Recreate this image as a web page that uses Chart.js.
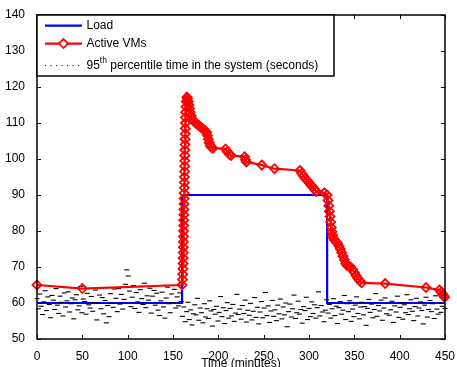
<!DOCTYPE html>
<html>
<head>
<meta charset="utf-8">
<script src="https://cdn.jsdelivr.net/npm/chart.js@4.4.0/dist/chart.umd.min.js"></script>
<style>
  html, body { margin: 0; padding: 0; background: #fff; }
  canvas { display: block; }
</style>
</head>
<body>
<canvas id="chart" width="457" height="367"></canvas>
<script>
// Load vs. active VMs vs. 95th percentile response time

const xTickValues = [0, 50, 100, 150, 200, 250, 300, 350, 400, 450];
const yTickValues = [50, 60, 70, 80, 90, 100, 110, 120, 130, 140];

// Load (step function)
const loadTimes = [0, 160, 160, 320, 320, 450];
const loadValues = [60, 60, 90, 90, 60, 60];

// Active VMs
const vmTimes = [
  0, 50, 160, 160.4, 160.7, 160.9, 161.1, 161.2, 161.3, 161.4,
  161.5, 161.6, 161.7, 161.8, 161.9, 162.0, 162.1, 162.2, 162.3, 162.4,
  162.5, 162.6, 162.7, 162.8, 162.9, 163.0, 163.1, 163.2, 163.3, 163.4,
  163.5, 163.6, 163.7, 163.8, 164.0, 164.3, 164.7, 165.3, 166.0, 166.8,
  167.5, 168.3, 169, 170, 171, 173, 175, 177, 179, 181,
  183, 185, 187, 188, 189, 190, 191, 192, 194, 208,
  210, 212, 214, 229, 230, 231, 248, 262, 290, 292,
  294, 296, 298, 300, 302, 304, 306, 308, 317, 320,
  321, 321.8, 322.5, 323.2, 323.9, 324.6, 325.3, 326, 327, 328.5,
  330, 331.5, 333, 334.5, 336, 337.5, 339, 340.5, 342, 344,
  346, 348, 350, 352, 354, 356, 358, 384, 429, 444,
  446, 447.5, 448.5, 449.5
];
const vmCounts = [
  65, 64, 65, 66.5, 68, 69.5, 71, 72.5, 74, 75.5,
  77, 78.5, 80, 81.5, 83, 84.5, 86, 87.5, 89, 90.5,
  92, 93.5, 95, 96.5, 98, 99.5, 101, 102.5, 104, 105.5,
  107, 108.5, 110, 111.5, 113, 114.5, 116, 117.2, 116.8, 116,
  115, 114, 113, 112, 111.2, 110.5, 110, 109.6, 109.2, 108.8,
  108.3, 108, 107.4, 106.5, 105.5, 104.5, 103.8, 103.3, 103, 102.8,
  102, 101.3, 101, 100.6, 99.8, 99.2, 98.3, 97.3, 96.8, 96,
  95.3, 94.6, 94, 93.4, 92.8, 92.2, 91.6, 91, 90.6, 90,
  88.5, 87, 85.5, 84, 82.5, 81, 79.8, 78.8, 78, 77.4,
  77, 76.5, 75.8, 75, 74, 73, 72, 71, 70.4, 70.2,
  70, 69.3, 68.5, 67.6, 66.8, 66.2, 65.6, 65.4, 64.3, 63.6,
  63, 62.5, 62, 61.6
];

// 95th percentile time in the system, sampled every 1.5 min from 0 to 450
const noiseStartMin = 0;
const noiseStepMin = 1.5;
const noiseSeconds = [
  61.2, 58.4, 62.5, 59.1, 56.8, 60.3, 63.4, 57.9, 61.7, 59.6,
  55.9, 62.1, 60.8, 58.2, 64.0, 59.4, 57.1, 61.9, 60.2, 56.4,
  62.8, 58.9, 60.6, 63.1, 57.5, 59.8, 61.4, 55.6, 60.9, 62.3,
  58.1, 59.2, 64.6, 57.3, 61.1, 60.4, 56.9, 62.7, 59.5, 58.6,
  61.8, 57.7, 60.1, 63.6, 55.3, 59.9, 62.2, 58.4, 61.5, 57.0,
  60.7, 54.5, 59.3, 56.2, 62.6, 60.0, 58.8, 63.9, 61.3, 57.6,
  64.0, 59.7, 62.4, 58.3, 61.0, 65.2, 69.2, 67.5, 63.3, 59.0,
  61.6, 64.8, 58.5, 62.9, 60.3, 57.4, 63.7, 61.2, 59.6, 65.5,
  58.7, 62.0, 60.8, 64.1, 57.2, 61.9, 63.5, 59.4, 62.7, 58.0,
  56.5, 60.6, 63.0, 58.9, 55.8, 61.4, 64.4, 59.8, 57.3, 62.5,
  60.1, 63.8, 58.6, 61.7, 59.2, 62.8, 60.4,
  56.3, 58.9, 54.8, 57.6, 60.2, 55.4, 58.1, 53.9, 57.0, 59.5,
  56.7, 61.3, 55.2, 58.6, 57.3, 54.5, 59.8, 56.1, 58.4, 55.7,
  60.6, 57.8, 53.6, 58.2, 56.9, 59.1, 55.0, 57.4, 61.8, 56.2,
  58.7, 54.3, 57.9, 60.1, 55.8, 58.5, 56.4, 59.6, 54.9, 57.2,
  62.4, 56.8, 58.3, 55.5, 59.3, 57.1, 60.8, 54.7, 58.0, 56.6,
  59.9, 55.3, 57.7, 61.5, 56.0, 58.8, 54.2, 57.5, 60.4, 55.9,
  58.6, 62.9, 56.5, 59.2, 54.6, 57.8, 60.7, 56.3, 58.1, 55.1,
  59.4, 57.0, 61.1, 55.6, 58.9, 56.7, 60.0, 53.4, 57.6, 59.7,
  56.1, 58.4, 62.2, 55.7, 57.3, 60.5, 56.9, 58.2, 54.4, 59.0,
  57.9, 61.6, 55.4, 58.5, 56.2, 60.3, 57.1, 59.5, 55.8, 58.7,
  63.1, 56.4, 59.3, 57.5, 54.8, 58.0, 60.9,
  57.2, 59.6, 55.8, 58.4, 61.2, 56.5, 59.1, 54.3, 58.7, 60.4,
  56.9, 58.0, 62.1, 55.4, 59.8, 57.6, 60.6, 54.9, 58.3, 56.2,
  59.4, 61.7, 57.1, 55.6, 58.9, 60.2, 56.7, 59.0, 53.8, 58.5,
  61.0, 57.4, 59.7, 55.9, 58.2, 62.6, 56.3, 59.3, 57.8, 60.8,
  55.2, 58.6, 61.4, 57.0, 59.9, 56.6, 58.1, 60.5, 54.6, 59.2,
  57.5, 61.9, 56.0, 58.8, 60.1, 55.5, 59.5, 57.3, 62.3, 56.8,
  58.4, 60.9, 57.7, 55.1, 59.0, 61.3, 56.4, 58.6, 60.3, 57.9,
  54.2, 59.4, 61.6, 56.1, 58.2, 60.7, 57.6, 59.8, 55.7, 62.0,
  58.3, 56.9, 60.0, 57.4, 59.1, 61.1, 58.5
];

const RED = '#ff0000';
const BLUE = '#0000ff';
const FONT = '"Liberation Sans", Arial, Helvetica, sans-serif';

function pairs(xs, ys) {
  return xs.map((x, i) => ({ x, y: ys[i] }));
}

const noiseTimes = noiseSeconds.map((_, i) => noiseStartMin + i * noiseStepMin);

// Frame with inward ticks on all four sides (MATLAB style)
const frameTicksPlugin = {
  id: 'frameTicks',
  afterDatasetsDraw(chart) {
    const { ctx, chartArea: a, scales: { x, y } } = chart;
    const len = 4;
    ctx.save();
    ctx.strokeStyle = '#000';
    ctx.lineWidth = 1;
    ctx.beginPath();
    for (const v of yTickValues) {
      const py = Math.round(y.getPixelForValue(v)) + 0.5;
      ctx.moveTo(a.left, py); ctx.lineTo(a.left + len, py);
      ctx.moveTo(a.right, py); ctx.lineTo(a.right - len, py);
    }
    for (const v of xTickValues) {
      const px = Math.round(x.getPixelForValue(v)) + 0.5;
      ctx.moveTo(px, a.bottom); ctx.lineTo(px, a.bottom - len);
      ctx.moveTo(px, a.top); ctx.lineTo(px, a.top + len);
    }
    ctx.stroke();
    ctx.lineWidth = 1.5;
    ctx.strokeRect(a.left, a.top, a.right - a.left, a.bottom - a.top);
    ctx.restore();
  }
};

// Legend box in the top-left corner + x axis title (clipped at bottom edge)
const legendPlugin = {
  id: 'boxLegend',
  afterDraw(chart) {
    const { ctx, chartArea: a } = chart;
    const bx = a.left, by = a.top, bw = 297, bh = 61;
    const lx0 = bx + 8, lx1 = bx + 45, tx = bx + 49.5;
    const rows = [by + 10.6, by + 28.6, by + 50.6];

    ctx.save();
    ctx.fillStyle = '#fff';
    ctx.fillRect(bx, by, bw, bh);
    ctx.strokeStyle = '#000';
    ctx.lineWidth = 1.5;
    ctx.strokeRect(bx, by, bw, bh);

    // Load
    ctx.strokeStyle = BLUE;
    ctx.lineWidth = 2.2;
    ctx.beginPath(); ctx.moveTo(lx0, rows[0]); ctx.lineTo(lx1, rows[0]); ctx.stroke();

    // Active VMs
    ctx.strokeStyle = RED;
    ctx.beginPath(); ctx.moveTo(lx0, rows[1]); ctx.lineTo(lx1, rows[1]); ctx.stroke();
    const mx = (lx0 + lx1) / 2, r = 4.5;
    ctx.lineWidth = 1.8;
    ctx.fillStyle = '#fff';
    ctx.beginPath();
    ctx.moveTo(mx, rows[1] - r); ctx.lineTo(mx + r, rows[1]);
    ctx.lineTo(mx, rows[1] + r); ctx.lineTo(mx - r, rows[1]); ctx.closePath();
    ctx.fill(); ctx.stroke();

    // 95th percentile (dotted)
    ctx.strokeStyle = '#000';
    ctx.lineWidth = 1;
    ctx.setLineDash([1, 4.5]);
    ctx.beginPath(); ctx.moveTo(lx0, rows[2]); ctx.lineTo(lx1, rows[2]); ctx.stroke();
    ctx.setLineDash([]);

    ctx.fillStyle = '#000';
    ctx.textBaseline = 'middle';
    ctx.font = '12px ' + FONT;
    ctx.fillText('Load', tx, rows[0]);
    ctx.fillText('Active VMs', tx, rows[1]);
    ctx.fillText('95', tx, rows[2]);
    let w = ctx.measureText('95').width;
    ctx.font = '8.5px ' + FONT;
    ctx.fillText('th', tx + w, rows[2] - 5);
    w += ctx.measureText('th').width;
    ctx.font = '12px ' + FONT;
    ctx.fillText(' percentile time in the system (seconds)', tx + w, rows[2]);

    // x axis title
    ctx.textAlign = 'center';
    ctx.textBaseline = 'alphabetic';
    ctx.fillText('Time (minutes)', (a.left + a.right) / 2, 366.5);
    ctx.restore();
  }
};

new Chart(document.getElementById('chart'), {
  type: 'scatter',
  data: {
    datasets: [
      {
        label: 'Active VMs',
        data: pairs(vmTimes, vmCounts),
        showLine: true,
        borderColor: RED,
        borderWidth: 2.2,
        pointStyle: 'rectRot',
        pointRadius: 4.5,
        pointBorderColor: RED,
        pointBackgroundColor: 'rgba(255,255,255,0)',
        pointBorderWidth: 1.8,
        tension: 0,
        clip: false,
      },
      {
        label: '95th percentile time in the system (seconds)',
        data: pairs(noiseTimes, noiseSeconds),
        showLine: false,
        pointStyle: 'line',
        pointRadius: 2.5,
        pointBorderColor: '#000',
        pointBorderWidth: 1.1,
        clip: false,
      },
      {
        label: 'Load',
        data: pairs(loadTimes, loadValues),
        showLine: true,
        borderColor: BLUE,
        borderWidth: 2.2,
        pointRadius: 0,
        tension: 0,
      },
    ],
  },
  plugins: [frameTicksPlugin, legendPlugin],
  options: {
    responsive: false,
    animation: false,
    devicePixelRatio: 1,
    events: [],
    layout: { padding: { top: 15, right: 10, left: 0, bottom: 0 } },
    scales: {
      x: {
        type: 'linear',
        min: 0,
        max: 450,
        afterFit: s => { s.height = 28; },
        afterBuildTicks: s => { s.ticks = xTickValues.map(v => ({ value: v })); },
        ticks: { color: '#000', font: { size: 12, family: FONT }, padding: 2, maxRotation: 0, autoSkip: false },
        grid: { display: false },
        border: { display: false },
      },
      y: {
        min: 50,
        max: 140,
        afterFit: s => { s.width = 37; },
        afterBuildTicks: s => { s.ticks = yTickValues.map(v => ({ value: v })); },
        ticks: { color: '#000', font: { size: 12, family: FONT }, padding: 4, autoSkip: false },
        grid: { display: false },
        border: { display: false },
      },
    },
    plugins: {
      legend: { display: false },
      tooltip: { enabled: false },
    },
  },
});
</script>
</body>
</html>
